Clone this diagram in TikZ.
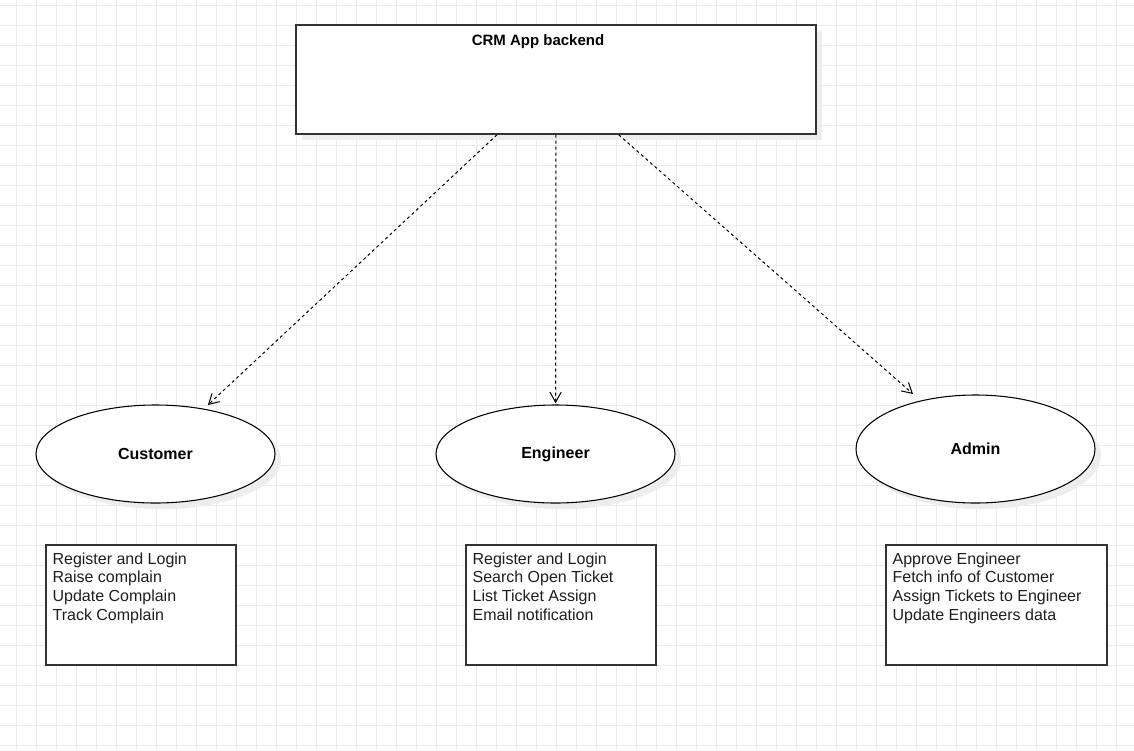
\documentclass[tikz,border=0pt]{standalone}
\usepackage{fontspec}
\setmainfont{Liberation Sans}
\usepackage{tikz}
\usetikzlibrary{arrows.meta,shapes.geometric}

\begin{document}
\begin{tikzpicture}[x=0.75pt, y=-0.75pt, >={Straight Barb[length=7.5pt,width=8.5pt]}]
			\tikzstyle{gridline} = [draw=black!8, line width=0.6pt]
			\tikzstyle{shade} = [preaction={fill=black!7, transform canvas={shift={(4.5pt,-4.5pt)}}}]
			\tikzstyle{app} = [draw=black!80, line width=1pt, fill=white, shade, minimum width=390pt, minimum height=81.75pt, inner sep=0pt]
			\tikzstyle{actor} = [draw, ellipse, line width=0.8pt, fill=white, shade, minimum width=179.25pt, minimum height=73.5pt, inner sep=0pt, font=\fontsize{12}{14}\selectfont\bfseries]
			\tikzstyle{duties} = [draw=black!80, line width=1pt, fill=white, minimum width=142.5pt, minimum height=90pt, inner sep=0pt]
			\tikzstyle{dutytext} = [anchor=north west, inner sep=0pt, xshift=5.25pt, yshift=-6pt, align=left, text=black!88, font=\fontsize{12}{14}\selectfont]
			\tikzstyle{uses} = [->, dash pattern=on 2.25pt off 2.25pt, line width=0.75pt]

			% background grid
			\useasboundingbox (0,0) rectangle (1134,750);
			\fill[white] (0,0) rectangle (1134,750);
			\foreach \gx in {16,36,...,1134} \draw[gridline] (\gx,0) -- (\gx,750);
			\foreach \gy in {5,25,...,750} \draw[gridline] (0,\gy) -- (1134,\gy);

			\begin{scope}
			\path

			node[app, label={[anchor=north, inner sep=0pt, xshift=-13.5pt, yshift=-7.75pt, font=\fontsize{11.25}{13}\selectfont\bfseries]north:CRM App backend}] (backend) at (556,79.5) {}

			node[actor] (customer) at (155.5,454) {Customer}
			node[actor] (engineer) at (555.5,454) {Engineer}
			node[actor, minimum height=81pt] (admin) at (975.5,449) {Admin}

			node[duties, label={[dutytext]north west:Register and Login\\Raise complain\\Update Complain\\Track Complain}] (custbox) at (141,605) {}
			node[duties, label={[dutytext]north west:Register and Login\\Search Open Ticket\\List Ticket Assign\\Email notification}] (engbox) at (561,605) {}
			node[duties, minimum width=165.75pt, label={[dutytext]north west:Approve Engineer\\Fetch info of Customer\\Assign Tickets to Engineer\\Update Engineers data}] (admbox) at (996.5,605) {}

			(backend) edge[uses, shorten >=4pt] (customer)
			(backend) edge[uses, shorten >=1pt] (engineer)
			(backend) edge[uses, shorten >=7.5pt] (admin)
			;
			\end{scope}

			\end{tikzpicture}
\end{document}
